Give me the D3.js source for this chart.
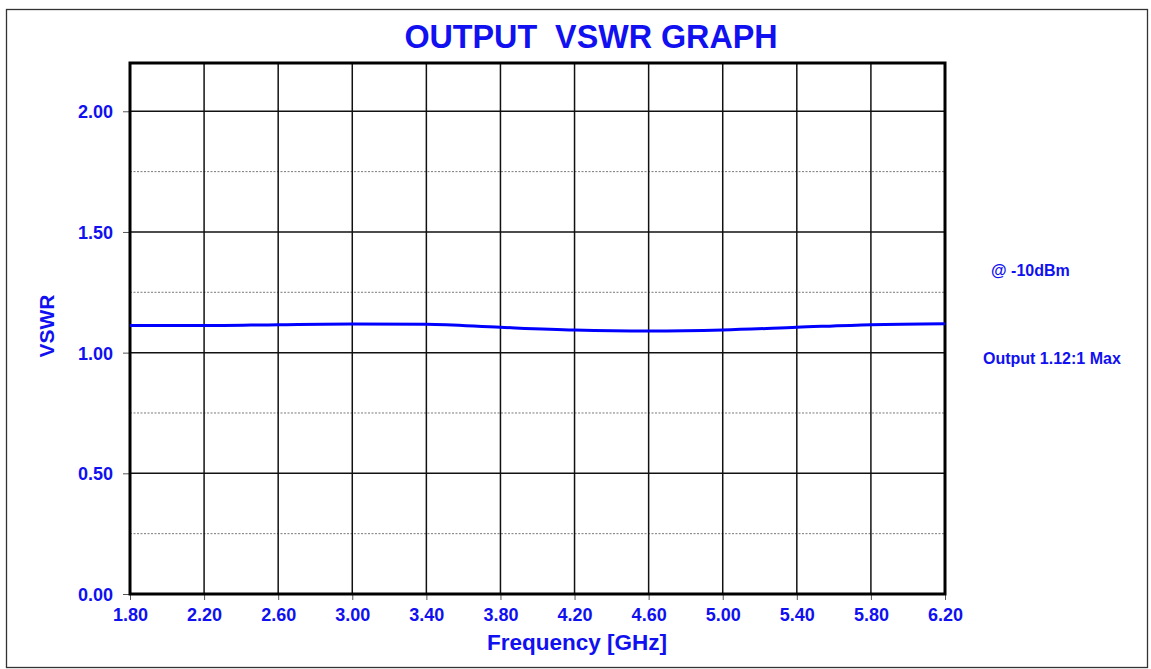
<!DOCTYPE html>
<html><head><meta charset="utf-8">
<script src="https://cdn.jsdelivr.net/npm/d3@7"></script>
<style>body{margin:0;background:#fff;}svg{display:block;font-family:"Liberation Sans",Arial,sans-serif;}</style>
</head><body><svg id="c" width="1151" height="669"></svg>
<script>
const freqs = [1.8, 2.2, 2.6, 3.0, 3.4, 3.8, 4.2, 4.6, 5.0, 5.4, 5.8, 6.2];
const vswr  = [1.112, 1.112, 1.116, 1.119, 1.118, 1.105, 1.094, 1.090, 1.094, 1.105, 1.116, 1.120];
const xTicks = [1.8, 2.2, 2.6, 3.0, 3.4, 3.8, 4.2, 4.6, 5.0, 5.4, 5.8, 6.2];
const yTicks = [0, 0.5, 1.0, 1.5, 2.0];
const yMinor = [0.25, 0.75, 1.25, 1.75];
const title = "OUTPUT  VSWR GRAPH";
const xTitle = "Frequency [GHz]";
const yTitle = "VSWR";
const notes = ["@ -10dBm", "Output 1.12:1 Max"];

const blue = "#1010f0";
const svg = d3.select("#c");
const L = 130, R = 945, T = 63, B = 594;
const x = d3.scaleLinear().domain([1.8, 6.2]).range([L, R]);
const y = d3.scaleLinear().domain([0, 2.2]).range([B, T]);

svg.append("rect").attr("x", 6.5).attr("y", 9.5).attr("width", 1141).attr("height", 658)
  .attr("fill", "none").attr("stroke", "#333").attr("stroke-width", 1.3);

// minor dotted lines
svg.append("g").selectAll("line").data(yMinor).join("line")
  .attr("x1", L).attr("x2", R).attr("y1", d => y(d)).attr("y2", d => y(d))
  .attr("stroke", "#555").attr("stroke-width", 0.8).attr("stroke-dasharray", "2,1.5");

// major grid
svg.append("g").selectAll("line").data(yTicks).join("line")
  .attr("x1", L).attr("x2", R).attr("y1", d => y(d)).attr("y2", d => y(d))
  .attr("stroke", "#111").attr("stroke-width", 1.5);
svg.append("g").selectAll("line").data(xTicks).join("line")
  .attr("y1", T).attr("y2", B).attr("x1", d => x(d)).attr("x2", d => x(d))
  .attr("stroke", "#111").attr("stroke-width", 1.5);

// axes (ticks and labels)
const xAxis = d3.axisBottom(x).tickValues(xTicks).tickSize(6).tickFormat(d3.format(".2f"));
const gx = svg.append("g").attr("transform", `translate(0,${B})`).call(xAxis);
gx.select(".domain").remove();
gx.selectAll(".tick line").attr("stroke", "#555");
gx.selectAll(".tick text").attr("fill", blue).attr("font-size", 18).attr("font-weight", "bold")
  .attr("font-family", "Liberation Sans, Arial, sans-serif").attr("y", 9).attr("dy", "1.0em");

const yAxis = d3.axisLeft(y).tickValues(yTicks).tickSize(7).tickFormat(d3.format(".2f"));
const gy = svg.append("g").attr("transform", `translate(${L},0)`).call(yAxis);
gy.select(".domain").remove();
gy.selectAll(".tick line").attr("stroke", "#555");
gy.selectAll(".tick text").attr("fill", blue).attr("font-size", 18).attr("font-weight", "bold")
  .attr("font-family", "Liberation Sans, Arial, sans-serif").attr("x", -17).attr("dy", "0.36em");

// frame
svg.append("rect").attr("x", L).attr("y", T).attr("width", R - L).attr("height", B - T)
  .attr("fill", "none").attr("stroke", "#000").attr("stroke-width", 3);

// curve
const line = d3.line().x((d, i) => x(freqs[i])).y(d => y(d)).curve(d3.curveMonotoneX);
svg.append("path").datum(vswr).attr("d", line).attr("fill", "none")
  .attr("stroke", "#0000ff").attr("stroke-width", 3);

// texts
svg.append("text").attr("x", 591).attr("y", 48).attr("text-anchor", "middle")
  .attr("fill", blue).attr("font-size", 32.3).attr("font-weight", "bold")
  .style("white-space", "pre").text(title);
svg.append("text").attr("x", 577).attr("y", 650).attr("text-anchor", "middle")
  .attr("fill", blue).attr("font-size", 22.5).attr("font-weight", "bold").text(xTitle);
svg.append("text").attr("transform", "translate(54,326) rotate(-90)").attr("text-anchor", "middle")
  .attr("fill", blue).attr("font-size", 21).attr("font-weight", "bold").text(yTitle);
svg.append("text").attr("x", 991).attr("y", 276).attr("fill", blue).attr("font-size", 16)
  .attr("font-weight", "bold").text(notes[0]);
svg.append("text").attr("x", 983).attr("y", 364).attr("fill", blue).attr("font-size", 16)
  .attr("font-weight", "bold").text(notes[1]);
</script></body></html>
